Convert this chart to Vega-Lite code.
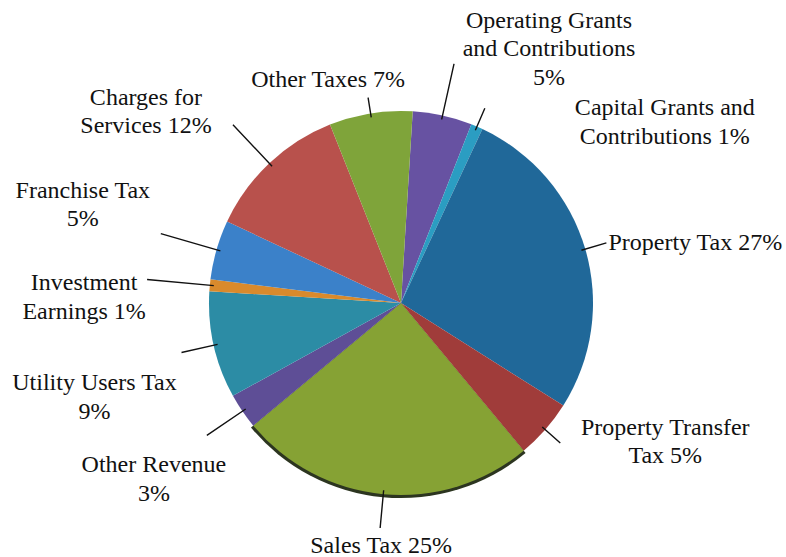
{
  "$schema": "https://vega.github.io/schema/vega-lite/v6.json",
  "autosize": {"type": "none"},
  "width": 770,
  "height": 508,
  "padding": {"left": 16, "top": 49, "right": 0, "bottom": 0},
  "background": "white",
  "config": {"view": {"stroke": null}},
  "data": {
    "values": [
      {"i": 1, "cat": "Operating Grants and Contributions", "v": 5, "label": "Operating Grants\nand Contributions\n5%"},
      {"i": 2, "cat": "Capital Grants and Contributions", "v": 1, "label": "Capital Grants and\nContributions 1%"},
      {"i": 3, "cat": "Property Tax", "v": 27, "label": "Property Tax 27%"},
      {"i": 4, "cat": "Property Transfer Tax", "v": 5, "label": "Property Transfer\nTax 5%"},
      {"i": 5, "cat": "Sales Tax", "v": 25, "label": "Sales Tax 25%"},
      {"i": 6, "cat": "Other Revenue", "v": 3, "label": "Other Revenue\n3%"},
      {"i": 7, "cat": "Utility Users Tax", "v": 9, "label": "Utility Users Tax\n9%"},
      {"i": 8, "cat": "Investment Earnings", "v": 1, "label": "Investment\nEarnings 1%"},
      {"i": 9, "cat": "Franchise Tax", "v": 5, "label": "Franchise Tax\n5%"},
      {"i": 10, "cat": "Charges for Services", "v": 12, "label": "Charges for\nServices 12%"},
      {"i": 11, "cat": "Other Taxes", "v": 7, "label": "Other Taxes 7%"}
    ]
  },
  "encoding": {
    "theta": {"field": "v", "type": "quantitative", "stack": true, "scale": {"range": [0.061, 6.3442]}},
    "order": {"field": "i", "type": "quantitative", "sort": "ascending"}
  },
  "layer": [
    {
      "mark": {"type": "arc", "radius": 195, "fill": "#2c3520"},
      "encoding": {"fillOpacity": {"condition": {"test": "datum.cat === 'Sales Tax'", "value": 1}, "value": 0}}
    },
    {
      "mark": {"type": "arc", "radius": 192, "stroke": null},
      "encoding": {
        "color": {
          "field": "cat", "type": "nominal", "legend": null,
          "scale": {
            "domain": ["Operating Grants and Contributions", "Capital Grants and Contributions", "Property Tax", "Property Transfer Tax", "Sales Tax", "Other Revenue", "Utility Users Tax", "Investment Earnings", "Franchise Tax", "Charges for Services", "Other Taxes"],
            "range": ["#6752a2", "#2b9dc2", "#206899", "#a03c3a", "#86a234", "#5e4e96", "#2c8ca5", "#d98a2c", "#3b81c9", "#b8514c", "#7fa43a"]
          }
        }
      }
    },
    {"mark": {"type": "arc", "radius": 245, "radius2": 188, "padAngle": 3, "fill": "transparent", "stroke": "#111", "strokeWidth": 1.4},
     "encoding": {"strokeOpacity": {"condition": {"test": "datum.i === 1", "value": 1}, "value": 0}}},
    {"mark": {"type": "arc", "radius": 212, "radius2": 188, "padAngle": 3, "fill": "transparent", "stroke": "#111", "strokeWidth": 1.4},
     "encoding": {"strokeOpacity": {"condition": {"test": "datum.i === 2", "value": 1}, "value": 0}}},
    {"mark": {"type": "arc", "radius": 214, "radius2": 188, "padAngle": 3, "fill": "transparent", "stroke": "#111", "strokeWidth": 1.4},
     "encoding": {"strokeOpacity": {"condition": {"test": "datum.i === 3", "value": 1}, "value": 0}}},
    {"mark": {"type": "arc", "radius": 212, "radius2": 188, "padAngle": 3, "fill": "transparent", "stroke": "#111", "strokeWidth": 1.4},
     "encoding": {"strokeOpacity": {"condition": {"test": "datum.i === 4", "value": 1}, "value": 0}}},
    {"mark": {"type": "arc", "radius": 226, "radius2": 188, "padAngle": 3, "fill": "transparent", "stroke": "#111", "strokeWidth": 1.4},
     "encoding": {"strokeOpacity": {"condition": {"test": "datum.i === 5", "value": 1}, "value": 0}}},
    {"mark": {"type": "arc", "radius": 235, "radius2": 188, "padAngle": 3, "fill": "transparent", "stroke": "#111", "strokeWidth": 1.4},
     "encoding": {"strokeOpacity": {"condition": {"test": "datum.i === 6", "value": 1}, "value": 0}}},
    {"mark": {"type": "arc", "radius": 225, "radius2": 188, "padAngle": 3, "fill": "transparent", "stroke": "#111", "strokeWidth": 1.4},
     "encoding": {"strokeOpacity": {"condition": {"test": "datum.i === 7", "value": 1}, "value": 0}}},
    {"mark": {"type": "arc", "radius": 255, "radius2": 188, "padAngle": 3, "fill": "transparent", "stroke": "#111", "strokeWidth": 1.4},
     "encoding": {"strokeOpacity": {"condition": {"test": "datum.i === 8", "value": 1}, "value": 0}}},
    {"mark": {"type": "arc", "radius": 250, "radius2": 188, "padAngle": 3, "fill": "transparent", "stroke": "#111", "strokeWidth": 1.4},
     "encoding": {"strokeOpacity": {"condition": {"test": "datum.i === 9", "value": 1}, "value": 0}}},
    {"mark": {"type": "arc", "radius": 245, "radius2": 188, "padAngle": 3, "fill": "transparent", "stroke": "#111", "strokeWidth": 1.4},
     "encoding": {"strokeOpacity": {"condition": {"test": "datum.i === 10", "value": 1}, "value": 0}}},
    {"mark": {"type": "arc", "radius": 208, "radius2": 188, "padAngle": 3, "fill": "transparent", "stroke": "#111", "strokeWidth": 1.4},
     "encoding": {"strokeOpacity": {"condition": {"test": "datum.i === 11", "value": 1}, "value": 0}}},
    {"mark": {"type": "text", "radius": 245, "dx": 95, "dy": -43, "align": "center", "baseline": "middle", "font": "Liberation Serif", "fontSize": 24, "lineHeight": 28.5, "lineBreak": "\n", "color": "#111"},
     "encoding": {"text": {"condition": {"test": "datum.i === 1", "field": "label", "type": "nominal"}, "value": ""}}},
    {"mark": {"type": "text", "radius": 212, "dx": 180, "dy": 0, "align": "center", "baseline": "middle", "font": "Liberation Serif", "fontSize": 24, "lineHeight": 28.5, "lineBreak": "\n", "color": "#111"},
     "encoding": {"text": {"condition": {"test": "datum.i === 2", "field": "label", "type": "nominal"}, "value": ""}}},
    {"mark": {"type": "text", "radius": 214, "dx": 2, "dy": 0, "align": "left", "baseline": "middle", "font": "Liberation Serif", "fontSize": 24, "lineHeight": 28.5, "lineBreak": "\n", "color": "#111"},
     "encoding": {"text": {"condition": {"test": "datum.i === 3", "field": "label", "type": "nominal"}, "value": ""}}},
    {"mark": {"type": "text", "radius": 212, "dx": 105, "dy": -15, "align": "center", "baseline": "middle", "font": "Liberation Serif", "fontSize": 24, "lineHeight": 28.5, "lineBreak": "\n", "color": "#111"},
     "encoding": {"text": {"condition": {"test": "datum.i === 4", "field": "label", "type": "nominal"}, "value": ""}}},
    {"mark": {"type": "text", "radius": 226, "dx": 1, "dy": 18, "align": "center", "baseline": "middle", "font": "Liberation Serif", "fontSize": 24, "lineHeight": 28.5, "lineBreak": "\n", "color": "#111"},
     "encoding": {"text": {"condition": {"test": "datum.i === 5", "field": "label", "type": "nominal"}, "value": ""}}},
    {"mark": {"type": "text", "radius": 235, "dx": -53, "dy": 30, "align": "center", "baseline": "middle", "font": "Liberation Serif", "fontSize": 24, "lineHeight": 28.5, "lineBreak": "\n", "color": "#111"},
     "encoding": {"text": {"condition": {"test": "datum.i === 6", "field": "label", "type": "nominal"}, "value": ""}}},
    {"mark": {"type": "text", "radius": 225, "dx": -87, "dy": 31, "align": "center", "baseline": "middle", "font": "Liberation Serif", "fontSize": 24, "lineHeight": 28.5, "lineBreak": "\n", "color": "#111"},
     "encoding": {"text": {"condition": {"test": "datum.i === 7", "field": "label", "type": "nominal"}, "value": ""}}},
    {"mark": {"type": "text", "radius": 255, "dx": -63, "dy": 4, "align": "center", "baseline": "middle", "font": "Liberation Serif", "fontSize": 24, "lineHeight": 28.5, "lineBreak": "\n", "color": "#111"},
     "encoding": {"text": {"condition": {"test": "datum.i === 8", "field": "label", "type": "nominal"}, "value": ""}}},
    {"mark": {"type": "text", "radius": 250, "dx": -78, "dy": -43, "align": "center", "baseline": "middle", "font": "Liberation Serif", "fontSize": 24, "lineHeight": 28.5, "lineBreak": "\n", "color": "#111"},
     "encoding": {"text": {"condition": {"test": "datum.i === 9", "field": "label", "type": "nominal"}, "value": ""}}},
    {"mark": {"type": "text", "radius": 245, "dx": -87, "dy": -27, "align": "center", "baseline": "middle", "font": "Liberation Serif", "fontSize": 24, "lineHeight": 28.5, "lineBreak": "\n", "color": "#111"},
     "encoding": {"text": {"condition": {"test": "datum.i === 10", "field": "label", "type": "nominal"}, "value": ""}}},
    {"mark": {"type": "text", "radius": 208, "dx": -40, "dy": -18, "align": "center", "baseline": "middle", "font": "Liberation Serif", "fontSize": 24, "lineHeight": 28.5, "lineBreak": "\n", "color": "#111"},
     "encoding": {"text": {"condition": {"test": "datum.i === 11", "field": "label", "type": "nominal"}, "value": ""}}}
  ]
}
